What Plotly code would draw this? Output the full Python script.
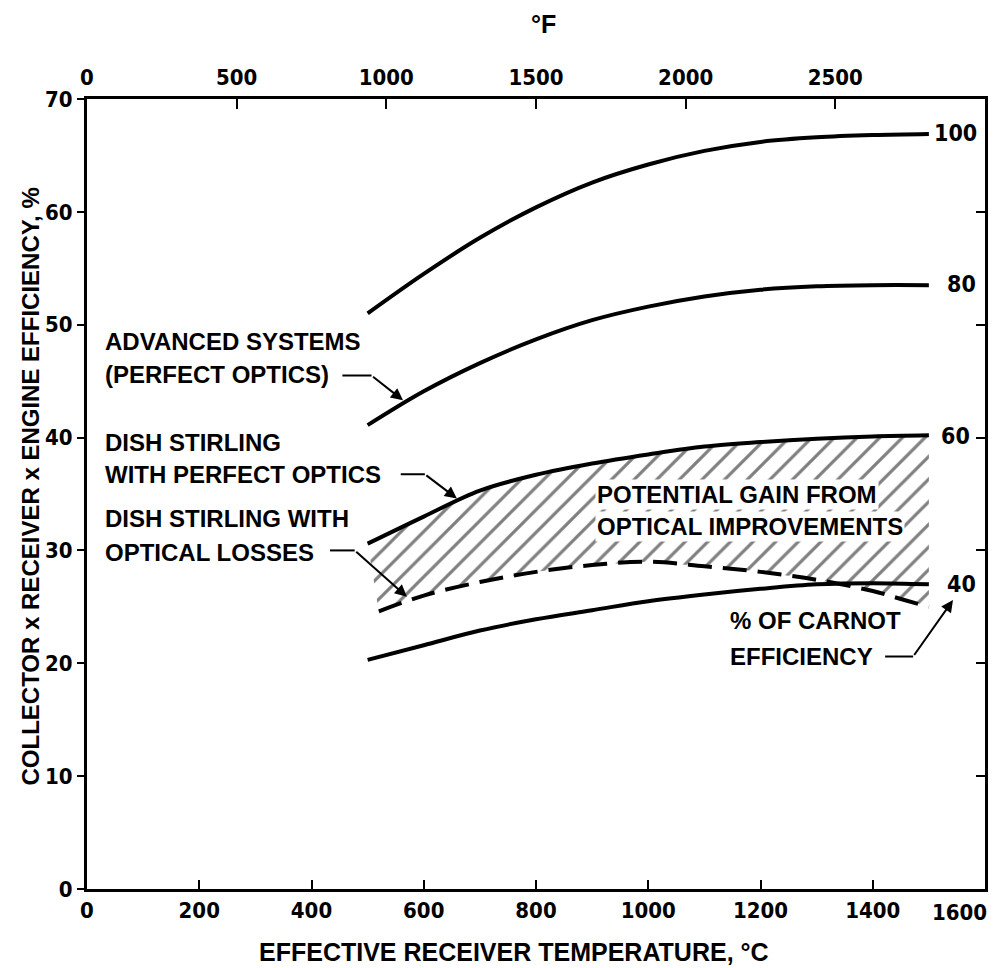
import plotly.graph_objects as go

# ---------------- data ----------------
T_C = [500, 600, 700, 800, 900, 1000, 1100, 1200, 1300, 1400, 1500]
eff_100 = [51.0, 54.5, 57.7, 60.4, 62.6, 64.2, 65.4, 66.2, 66.6, 66.8, 66.9]
eff_80 = [41.1, 44.1, 46.6, 48.7, 50.4, 51.6, 52.5, 53.1, 53.4, 53.5, 53.5]
eff_60 = [30.6, 33.0, 35.3, 36.7, 37.7, 38.5, 39.2, 39.6, 39.9, 40.1, 40.2]
eff_40 = [20.3, 21.6, 22.9, 23.9, 24.7, 25.5, 26.1, 26.6, 27.0, 27.1, 27.0]

T_loss = [520, 600, 700, 800, 900, 1000, 1100, 1200, 1300, 1400, 1450, 1500]
eff_loss = [24.6, 26.0, 27.2, 28.1, 28.7, 29.0, 28.6, 28.1, 27.4, 26.4, 25.7, 25.0]

carnot_labels = ["100", "80", "60", "40"]
x_ticks_C = [0, 200, 400, 600, 800, 1000, 1200, 1400, 1600]
x_ticktext_C = ["0", "200", "400", "600", "800", "1000", "1200", "1400", ""]
x_last_label = "1600"
x_ticks_F = [0, 500, 1000, 1500, 2000, 2500]
y_ticks = [0, 10, 20, 30, 40, 50, 60, 70]

FONT_NUM = "Liberation Sans Narrow, DejaVu Sans Condensed, Liberation Sans, Arial, sans-serif"
FONT_TXT = "Liberation Sans, Arial, sans-serif"

fig = go.Figure()

# hatched region between the 60% curve and the dashed (optical losses) curve
fig.add_trace(go.Scatter(
    x=T_C + T_loss[::-1], y=eff_60 + eff_loss[::-1],
    mode="lines", fill="toself", line=dict(width=0, color="rgba(0,0,0,0)"),
    fillcolor="white",
    fillpattern=dict(shape="/", fgcolor="black", bgcolor="white", size=16, solidity=0.2),
    hoverinfo="skip", showlegend=False))

for e in [eff_100, eff_80, eff_60, eff_40]:
    fig.add_trace(go.Scatter(x=T_C, y=e, mode="lines", line=dict(color="black", width=4, shape="spline"),
                             showlegend=False))

fig.add_trace(go.Scatter(x=T_loss, y=eff_loss, mode="lines",
                         line=dict(color="black", width=4, dash="24px,11px", shape="spline"),
                         showlegend=False))

# invisible traces for the top (°F) axis and the right axis
fig.add_trace(go.Scatter(x=[0, 3000], y=[0, 0], xaxis="x2", yaxis="y", mode="markers",
                         marker=dict(opacity=0), hoverinfo="skip", showlegend=False))
fig.add_trace(go.Scatter(x=[0, 1600], y=[0, 70], xaxis="x", yaxis="y2", mode="markers",
                         marker=dict(opacity=0), hoverinfo="skip", showlegend=False))

# ---------------- curve end labels ----------------
label_pos = [(1505, 67.0), (1529, 53.6), (1518, 40.1), (1529, 27.0)]
for txt, (lx, ly) in zip(carnot_labels, label_pos):
    fig.add_annotation(x=lx, y=ly, text=txt, showarrow=False, xanchor="left", yanchor="middle",
                       font=dict(family=FONT_NUM, size=23, color="black", weight="bold"))

# ---------------- text blocks ----------------
texts = [
    ("ADVANCED SYSTEMS", 28, 48.5),
    ("(PERFECT OPTICS)", 28, 45.6),
    ("DISH STIRLING", 28, 39.6),
    ("WITH PERFECT OPTICS", 28, 36.7),
    ("DISH STIRLING WITH", 28, 32.8),
    ("OPTICAL LOSSES", 28, 29.8),
    ("% OF CARNOT", 1142, 23.8),
    ("EFFICIENCY", 1142, 20.6),
]
for t, tx, ty in texts:
    fig.add_annotation(x=tx, y=ty, text=t, showarrow=False, xanchor="left", yanchor="middle",
                       font=dict(family=FONT_TXT, size=24, color="black", weight="bold"))

for t, ty in [("POTENTIAL GAIN FROM", 35.0), ("OPTICAL IMPROVEMENTS", 32.1)]:
    fig.add_annotation(x=905, y=ty, text=t, showarrow=False, xanchor="left", yanchor="middle",
                       bgcolor="white", borderpad=1,
                       font=dict(family=FONT_TXT, size=24, color="black", weight="bold"))

# ---------------- leaders (horizontal piece + arrow) ----------------
leaders = [
    # start T, corner T, y, head T, head E
    (455, 507, 45.5, 563, 43.3),
    (559, 602, 36.75, 659, 34.6),
    (433, 477, 30.0, 570, 25.9),
    (1422, 1472, 20.6, 1543, 25.6),
]
for sx, cx, cy, hx, hy in leaders:
    fig.add_shape(type="line", x0=sx, x1=cx, y0=cy, y1=cy, line=dict(color="black", width=2))
    fig.add_annotation(x=hx, y=hy, ax=cx, ay=cy, axref="x", ayref="y", xref="x", yref="y",
                       text="", showarrow=True, arrowhead=2, arrowsize=1.2, arrowwidth=2,
                       arrowcolor="black")

# last bottom tick label, shifted inward as in the original
fig.add_annotation(x=1.005, y=0, xref="paper", yref="paper", xanchor="right", yanchor="top",
                   yshift=-9, text=x_last_label, showarrow=False,
                   font=dict(family=FONT_NUM, size=22, color="black", weight="bold"))

# ---------------- axis titles ----------------
fig.add_annotation(x=0.475, y=-0.06, xref="paper", yref="paper", yanchor="top",
                   text="EFFECTIVE RECEIVER TEMPERATURE, °C", showarrow=False,
                   font=dict(family=FONT_TXT, size=25, color="black", weight="bold"))
fig.add_annotation(x=-0.063, y=0.51, xref="paper", yref="paper", xanchor="center",
                   text="COLLECTOR x RECEIVER x ENGINE EFFICIENCY, %", textangle=-90,
                   showarrow=False, font=dict(family=FONT_TXT, size=24, color="black", weight="bold"))
fig.add_annotation(x=0.508, y=1.075, xref="paper", yref="paper", yanchor="bottom",
                   text="°F", showarrow=False,
                   font=dict(family=FONT_TXT, size=25, color="black", weight="bold"))

axis_common = dict(showgrid=False, zeroline=False, showline=True, linecolor="black",
                   linewidth=3, tickcolor="black", tickwidth=2,
                   tickfont=dict(family=FONT_NUM, size=22, color="black", weight="bold"))

fig.update_layout(
    width=995, height=968,
    margin=dict(l=87, r=10, t=99, b=79),
    paper_bgcolor="white", plot_bgcolor="white",
    xaxis=dict(range=[0, 1600], tickvals=x_ticks_C, ticktext=x_ticktext_C, ticks="inside", ticklen=9,
               ticklabelstandoff=0, **axis_common),
    xaxis2=dict(range=[0, 3000], overlaying="x", side="top", tickvals=x_ticks_F,
                ticks="inside", ticklen=10, ticklabelstandoff=2, **axis_common),
    yaxis=dict(range=[0, 70], tickvals=y_ticks, ticks="outside", ticklen=7,
               ticklabelstandoff=0, **axis_common),
    yaxis2=dict(range=[0, 70], overlaying="y", side="right", tickvals=y_ticks,
                ticks="inside", ticklen=9, showticklabels=False, **axis_common),
)

fig.write_html("out.html")
